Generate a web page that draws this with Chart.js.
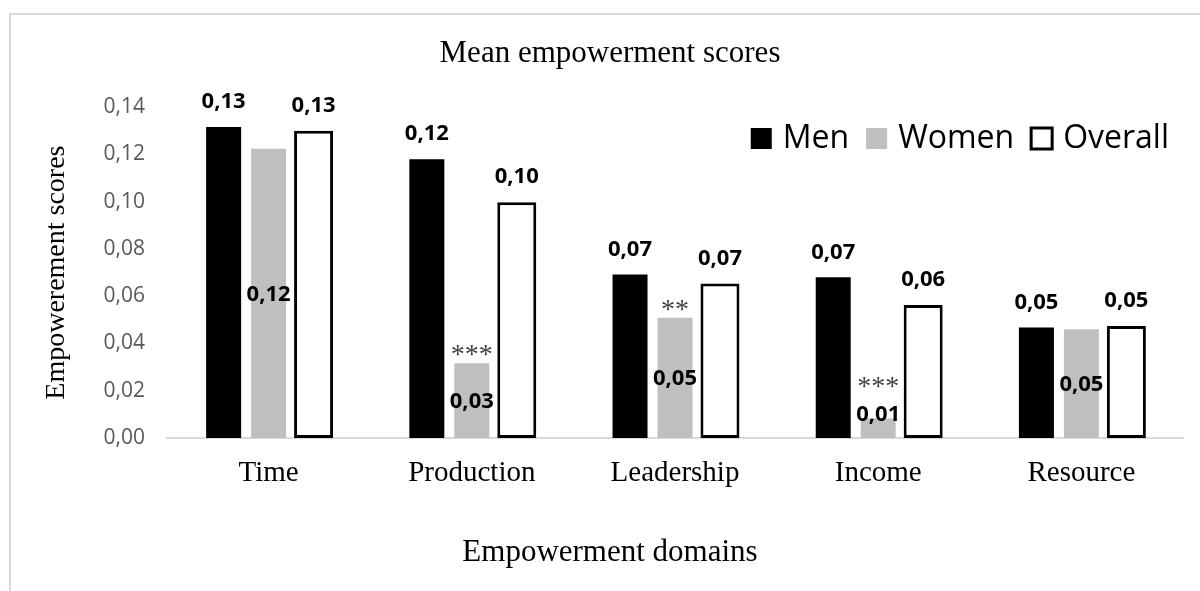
<!DOCTYPE html>
<html><head><meta charset="utf-8">
<script src="https://cdn.jsdelivr.net/npm/chart.js@4.4.1/dist/chart.umd.min.js"></script>
<style>html,body{margin:0;padding:0;background:#fff;} canvas{display:block;}</style>
</head><body>
<canvas id="c" width="1200" height="591"></canvas>
<script>
const categories = ["Time", "Production", "Leadership", "Income", "Resource"];
const men = [0.1316, 0.118, 0.0692, 0.068, 0.0468];
const women = [0.1224, 0.0316, 0.0509, 0.0083, 0.046];
const overall = [0.130, 0.0998, 0.0654, 0.0563, 0.0474];
const womenSignificance = ["", "***", "**", "***", ""];
const yTicks = [0, 0.02, 0.04, 0.06, 0.08, 0.10, 0.12, 0.14];
const seriesNames = ["Men", "Women", "Overall"];

const SERIF = '"Liberation Serif", "Times New Roman", serif';
const SANS = '"Open Sans", "Noto Sans", sans-serif';
const fmt = v => v.toFixed(2).replace('.', ',');

const extras = {
  id: 'extras',
  beforeDraw(chart) {
    const ctx = chart.ctx;
    ctx.save();
    ctx.strokeStyle = '#d9d9d9';
    ctx.lineWidth = 2;
    ctx.strokeRect(10, 14, 1400, 900);
    ctx.restore();
  },
  afterDatasetsDraw(chart) {
    const ctx = chart.ctx;
    ctx.save();
    ctx.textAlign = 'center';
    chart.data.datasets.forEach((ds, di) => {
      const meta = chart.getDatasetMeta(di);
      meta.data.forEach((el, i) => {
        const v = ds.data[i];
        ctx.font = 'bold 22px ' + SANS;
        ctx.fillStyle = '#000';
        ctx.textBaseline = 'middle';
        let ly;
        if (di === 1) {
          ly = Math.min((el.y + el.base) / 2, el.base - 24) + 1;
        } else {
          ly = el.y - 25;
        }
        ctx.fillText(fmt(v), el.x, ly);
        if (di === 1 && womenSignificance[i]) {
          const ay = Math.min(el.y, ly - 20) - 12;
          ctx.font = '28px ' + SERIF;
          ctx.fillStyle = '#404040';
          ctx.textBaseline = 'alphabetic';
          ctx.fillText(womenSignificance[i], el.x, ay + 12);
        }
      });
    });
    // legend
    ctx.font = '32px ' + SANS;
    ctx.textAlign = 'left';
    ctx.textBaseline = 'middle';
    const box = 21, gapText = 11, gapItem = 17, cy = 139;
    let x = 1169;
    const pos = [];
    for (let k = chart.data.datasets.length - 1; k >= 0; k--) {
      const w = ctx.measureText(chart.data.datasets[k].label).width;
      const tx = x - w;
      const bx = tx - gapText - box;
      pos[k] = {tx, bx};
      x = bx - gapItem;
    }
    chart.data.datasets.forEach((ds, k) => {
      const p = pos[k];
      ctx.fillStyle = ds.backgroundColor;
      ctx.fillRect(p.bx, cy - box / 2 - 0.5, box, box);
      if (ds.borderWidth) {
        ctx.strokeStyle = ds.borderColor;
        ctx.lineWidth = ds.borderWidth;
        ctx.strokeRect(p.bx, cy - box / 2 - 0.5, box, box);
      }
      ctx.fillStyle = '#000';
      ctx.fillText(ds.label, p.tx, cy);
    });
    ctx.restore();
  }
};

new Chart(document.getElementById('c'), {
  type: 'bar',
  data: {
    labels: categories,
    datasets: [
      { label: seriesNames[0], data: men, backgroundColor: '#000000', borderWidth: 0,
        barPercentage: 0.778, categoryPercentage: 0.664 },
      { label: seriesNames[1], data: women, backgroundColor: '#bfbfbf', borderWidth: 0,
        barPercentage: 0.778, categoryPercentage: 0.664 },
      { label: seriesNames[2], data: overall, backgroundColor: '#ffffff', borderColor: '#000000',
        borderWidth: 3, borderSkipped: false, barPercentage: 0.867, categoryPercentage: 0.664 }
    ]
  },
  options: {
    responsive: false,
    animation: false,
    layout: { padding: { left: 37, right: 17, top: 0, bottom: 0 } },
    plugins: {
      legend: { display: false },
      tooltip: { enabled: false },
      title: {
        display: true,
        text: 'Mean empowerment scores',
        color: '#000',
        font: { family: SERIF, size: 31, weight: 'normal' },
        padding: { top: 35, bottom: 35 }
      },
      subtitle: {
        display: true,
        position: 'bottom',
        text: 'Empowerment domains',
        color: '#000',
        font: { family: SERIF, size: 31, weight: 'normal' },
        padding: { top: 10, bottom: 20 }
      }
    },
    scales: {
      x: {
        grid: { display: true, color: 'transparent', drawTicks: false },
        border: { display: true, color: '#d9d9d9', width: 2 },
        ticks: { color: '#000', font: { family: SERIF, size: 29 }, padding: 18 },
        afterFit: s => { s.height = 153 - (31 * 1.2 + 30); }
      },
      y: {
        min: 0, max: 0.14,
        grid: { display: false, drawTicks: false },
        border: { display: false },
        afterBuildTicks: s => { s.ticks = yTicks.map(v => ({ value: v })); },
        ticks: { color: '#595959', font: { family: SANS, size: 21 }, padding: 22,
          callback: v => fmt(v) },
        title: { display: true, text: 'Empowerement scores', color: '#000',
          font: { family: SERIF, size: 28 }, padding: { top: 3, bottom: 0 } },
        afterFit: s => { s.width = 130; }
      }
    }
  },
  plugins: [extras]
});
</script>
</body></html>
